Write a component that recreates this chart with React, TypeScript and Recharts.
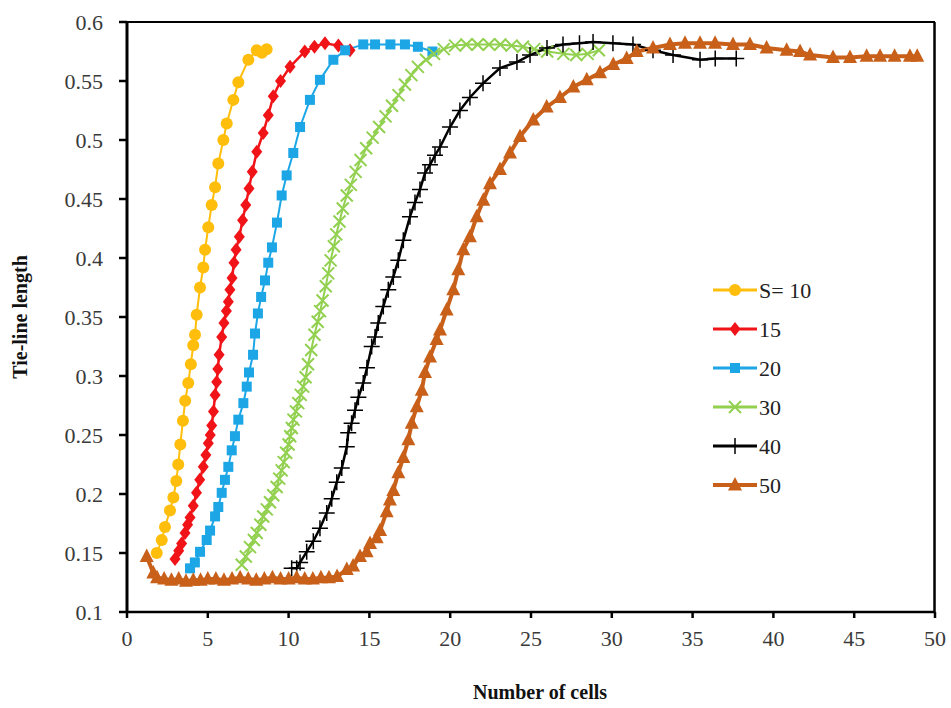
import { LineChart, Line, XAxis, YAxis, Label, ReferenceLine } from 'recharts';

const xTicks = [0, 5, 10, 15, 20, 25, 30, 35, 40, 45, 50];
const yTicks = [0.1, 0.15, 0.2, 0.25, 0.3, 0.35, 0.4, 0.45, 0.5, 0.55, 0.6];

// S = 10
const s10X = [1.84, 2.15, 2.35, 2.66, 2.87, 3.05, 3.17, 3.3, 3.46, 3.6, 3.79, 3.95, 4.1, 4.21, 4.31, 4.52, 4.72, 4.83, 5.03, 5.24, 5.45, 5.65, 5.96, 6.17, 6.58, 6.89, 7.51, 8.03, 8.35, 8.64];
const s10Y = [0.15, 0.161, 0.172, 0.186, 0.197, 0.211, 0.225, 0.242, 0.262, 0.279, 0.294, 0.31, 0.326, 0.335, 0.352, 0.375, 0.392, 0.407, 0.426, 0.445, 0.46, 0.48, 0.5, 0.514, 0.534, 0.549, 0.568, 0.576, 0.574, 0.577];

// 15
const s15X = [2.97, 3.2, 3.38, 3.59, 3.75, 3.9, 4.1, 4.3, 4.5, 4.72, 4.88, 5.03, 5.15, 5.24, 5.35, 5.45, 5.55, 5.62, 5.7, 5.86, 6.0, 6.15, 6.27, 6.37, 6.5, 6.62, 6.75, 6.95, 7.15, 7.35, 7.55, 7.75, 8.03, 8.43, 8.74, 9.05, 9.5, 10.09, 11.0, 11.6, 12.25, 13.08, 13.8];
const s15Y = [0.145, 0.152, 0.158, 0.167, 0.174, 0.18, 0.19, 0.201, 0.212, 0.223, 0.233, 0.243, 0.25, 0.258, 0.27, 0.284, 0.295, 0.306, 0.318, 0.333, 0.345, 0.355, 0.363, 0.373, 0.383, 0.396, 0.407, 0.418, 0.432, 0.445, 0.459, 0.473, 0.49, 0.506, 0.521, 0.537, 0.55, 0.562, 0.575, 0.579, 0.582, 0.58, 0.576];

// 20
const s20X = [3.9, 4.2, 4.52, 4.93, 5.14, 5.45, 5.65, 5.86, 6.06, 6.27, 6.48, 6.68, 6.89, 7.2, 7.41, 7.55, 7.8, 7.92, 8.1, 8.3, 8.54, 8.74, 8.97, 9.28, 9.57, 9.88, 10.29, 10.71, 11.32, 11.94, 12.77, 13.5, 14.62, 15.35, 16.3, 17.2, 18.0, 18.9];
const s20Y = [0.137, 0.142, 0.151, 0.161, 0.169, 0.181, 0.189, 0.201, 0.212, 0.223, 0.237, 0.249, 0.263, 0.277, 0.291, 0.303, 0.318, 0.336, 0.353, 0.367, 0.381, 0.396, 0.409, 0.43, 0.453, 0.47, 0.489, 0.511, 0.534, 0.551, 0.568, 0.576, 0.581, 0.581, 0.581, 0.581, 0.579, 0.575];

// 30
const s30X = [7.1, 7.35, 7.61, 7.85, 8.03, 8.25, 8.43, 8.65, 8.85, 9.05, 9.26, 9.42, 9.57, 9.7, 9.85, 10.0, 10.1, 10.2, 10.3, 10.45, 10.6, 10.75, 10.9, 11.05, 11.2, 11.4, 11.6, 11.8, 11.95, 12.1, 12.3, 12.45, 12.6, 12.8, 12.95, 13.15, 13.35, 13.6, 13.85, 14.15, 14.45, 14.8, 15.2, 15.6, 16.0, 16.4, 16.8, 17.2, 17.6, 18.0, 18.5, 19.0, 19.6, 20.3, 21.0, 21.7, 22.4, 23.1, 23.8, 24.5, 25.2, 26.0, 27.0, 27.8, 28.5, 29.2];
const s30Y = [0.14, 0.147, 0.155, 0.161, 0.167, 0.174, 0.181, 0.187, 0.193, 0.199, 0.206, 0.213, 0.22, 0.227, 0.235, 0.242, 0.249, 0.256, 0.263, 0.27, 0.277, 0.284, 0.291, 0.299, 0.31, 0.322, 0.335, 0.346, 0.355, 0.364, 0.376, 0.387, 0.398, 0.41, 0.42, 0.431, 0.442, 0.453, 0.462, 0.473, 0.483, 0.493, 0.502, 0.511, 0.52, 0.529, 0.538, 0.547, 0.555, 0.562, 0.568, 0.573, 0.577, 0.58, 0.581, 0.581, 0.581, 0.581, 0.58, 0.579, 0.577, 0.575, 0.573, 0.572, 0.573, 0.576];

// 40
const s40X = [10.19, 10.5, 10.71, 11.12, 11.53, 11.94, 12.36, 12.67, 12.98, 13.29, 13.6, 13.69, 13.9, 14.11, 14.32, 14.62, 14.85, 15.14, 15.35, 15.55, 15.86, 16.17, 16.48, 16.79, 17.1, 17.51, 17.82, 18.13, 18.44, 18.75, 19.06, 19.37, 19.99, 20.6, 21.22, 22.03, 23.08, 24.13, 24.94, 25.99, 26.98, 28.0, 28.84, 30.07, 31.31, 32.55, 33.79, 35.46, 36.4, 37.7];
const s40Y = [0.137, 0.137, 0.142, 0.151, 0.16, 0.171, 0.184, 0.196, 0.21, 0.222, 0.24, 0.252, 0.26, 0.271, 0.282, 0.294, 0.307, 0.325, 0.333, 0.345, 0.359, 0.373, 0.384, 0.398, 0.415, 0.435, 0.447, 0.458, 0.472, 0.479, 0.487, 0.494, 0.511, 0.525, 0.536, 0.548, 0.561, 0.566, 0.572, 0.578, 0.581, 0.582, 0.583, 0.582, 0.581, 0.576, 0.572, 0.568, 0.569, 0.569];

// 50
const s50X = [1.22, 1.63, 1.86, 2.3, 2.75, 3.2, 3.65, 4.1, 4.55, 5.0, 5.5, 6.0, 6.5, 7.0, 7.5, 8.0, 8.5, 9.0, 9.5, 10.0, 10.5, 11.0, 11.5, 12.0, 12.5, 13.0, 13.6, 13.99, 14.42, 14.83, 15.04, 15.45, 15.66, 16.07, 16.27, 16.48, 16.79, 17.1, 17.41, 17.62, 17.93, 18.24, 18.44, 18.75, 19.16, 19.37, 19.78, 20.19, 20.5, 20.81, 21.22, 21.64, 22.05, 22.46, 23.08, 23.7, 24.32, 25.14, 25.97, 26.79, 27.62, 28.45, 29.27, 30.09, 30.92, 31.54, 32.55, 33.6, 34.53, 35.46, 36.39, 37.5, 38.55, 39.58, 40.82, 41.65, 42.27, 43.69, 44.74, 45.77, 46.6, 47.5, 48.45, 48.9];
const s50Y = [0.147, 0.133, 0.129, 0.128, 0.127, 0.128, 0.126, 0.127, 0.127, 0.128, 0.128, 0.127, 0.128, 0.129, 0.128, 0.127, 0.128, 0.129, 0.128, 0.128, 0.129, 0.128, 0.128, 0.129, 0.129, 0.13, 0.136, 0.139, 0.147, 0.151, 0.158, 0.163, 0.169, 0.185, 0.195, 0.203, 0.218, 0.231, 0.246, 0.26, 0.274, 0.288, 0.303, 0.316, 0.331, 0.339, 0.356, 0.373, 0.39, 0.407, 0.418, 0.435, 0.449, 0.463, 0.475, 0.489, 0.503, 0.517, 0.528, 0.536, 0.545, 0.551, 0.557, 0.564, 0.569, 0.575, 0.578, 0.581, 0.582, 0.582, 0.582, 0.581, 0.581, 0.578, 0.576, 0.575, 0.572, 0.57, 0.57, 0.571, 0.571, 0.571, 0.571, 0.571];

const toPoints = (xs: number[], ys: number[]) => xs.map((x, i) => ({ x, y: ys[i] }));

type Shape = 'circle' | 'diamond' | 'square' | 'cross' | 'plus' | 'triangle';

const SERIES: { name: string; color: string; width: number; shape: Shape; points: { x: number; y: number }[] }[] = [
  { name: 'S= 10', color: '#FFBE0B', width: 2, shape: 'circle', points: toPoints(s10X, s10Y) },
  { name: '15', color: '#F01418', width: 2.5, shape: 'diamond', points: toPoints(s15X, s15Y) },
  { name: '20', color: '#1CA6E6', width: 2, shape: 'square', points: toPoints(s20X, s20Y) },
  { name: '30', color: '#92D050', width: 2, shape: 'cross', points: toPoints(s30X, s30Y) },
  { name: '40', color: '#000000', width: 2.5, shape: 'plus', points: toPoints(s40X, s40Y) },
  { name: '50', color: '#C8601A', width: 4, shape: 'triangle', points: toPoints(s50X, s50Y) },
];

const FONT = '"Liberation Serif", "Times New Roman", serif';

function Marker({ shape, cx, cy, color }: { shape: Shape; cx: number; cy: number; color: string }) {
  switch (shape) {
    case 'circle':
      return <circle cx={cx} cy={cy} r={6} fill={color} />;
    case 'diamond':
      return <polygon points={`${cx},${cy - 7} ${cx + 5.5},${cy} ${cx},${cy + 7} ${cx - 5.5},${cy}`} fill={color} />;
    case 'square':
      return <rect x={cx - 5} y={cy - 5} width={10} height={10} fill={color} />;
    case 'cross':
      return (
        <path d={`M${cx - 6},${cy - 6}L${cx + 6},${cy + 6}M${cx - 6},${cy + 6}L${cx + 6},${cy - 6}`} stroke={color} strokeWidth={2} />
      );
    case 'plus':
      return <path d={`M${cx - 8},${cy}L${cx + 8},${cy}M${cx},${cy - 8}L${cx},${cy + 8}`} stroke={color} strokeWidth={1.5} />;
    default:
      return <polygon points={`${cx},${cy - 8} ${cx + 7},${cy + 5.5} ${cx - 7},${cy + 5.5}`} fill={color} />;
  }
}

// legend drawn as an overlay so it doesn't eat plot space
const LegendBox = () => (
  <svg width={130} height={240} style={{ position: 'absolute', left: 713, top: 270 }}>
    {SERIES.map((s, i) => {
      const y = 20 + i * 39;
      return (
        <g key={s.name}>
          <line x1={0} x2={44} y1={y} y2={y} stroke={s.color} strokeWidth={s.shape === 'triangle' ? 4 : 3} />
          <Marker shape={s.shape} cx={22} cy={y} color={s.color} />
          <text x={46} y={y} dominantBaseline="central" fontSize={22} fontFamily={FONT} fill="#222">
            {s.name}
          </text>
        </g>
      );
    })}
  </svg>
);

const fmtY = (v: number) => String(Math.round(v * 100) / 100);

export default function App() {
  const tickStyle = { fill: '#3a3a3a', fontSize: 22, fontFamily: FONT };
  return (
    <div style={{ position: 'relative', width: 951, height: 708, overflow: 'hidden' }}>
      {/* drop the default body margin and any scrollbars so chart coords match the page */}
      <style>{'html,body{margin:0;padding:0;overflow:hidden}'}</style>
      <LineChart width={951} height={708} margin={{ top: 22, right: 16, bottom: 0, left: 0 }} style={{ fontFamily: FONT }}>
        <XAxis
          type="number"
          dataKey="x"
          domain={[0, 50]}
          ticks={xTicks}
          allowDataOverflow
          interval={0}
          height={96}
          tick={tickStyle}
          tickSize={6}
          tickMargin={12}
          axisLine={{ stroke: '#000', strokeWidth: 2.5 }}
          tickLine={{ stroke: '#000', strokeWidth: 2.5 }}
        >
          <Label value="Number of cells" position="insideBottom" offset={9} dx={9} fontSize={20} fontWeight="bold" fill="#111" fontFamily={FONT} />
        </XAxis>
        <YAxis
          type="number"
          domain={[0.1, 0.6]}
          ticks={yTicks}
          allowDataOverflow
          interval={0}
          width={127}
          tick={tickStyle}
          tickFormatter={fmtY}
          tickSize={8}
          tickMargin={16}
          axisLine={{ stroke: '#000', strokeWidth: 3 }}
          tickLine={{ stroke: '#000', strokeWidth: 2.5 }}
        >
          <Label value="Tie-line length" angle={-90} position="insideLeft" offset={20} fontSize={20} fontWeight="bold" fill="#111" fontFamily={FONT} style={{ textAnchor: 'middle' }} />
        </YAxis>
        {/* plot frame: top and right edges */}
        <ReferenceLine segment={[{ x: 0, y: 0.6 }, { x: 50, y: 0.6 }]} stroke="#000" strokeWidth={2.2} ifOverflow="visible" />
        <ReferenceLine segment={[{ x: 49.97, y: 0.1 }, { x: 49.97, y: 0.6 }]} stroke="#000" strokeWidth={2.5} ifOverflow="visible" />
        {SERIES.map((s) => (
          <Line
            key={s.name}
            data={s.points}
            dataKey="y"
            name={s.name}
            type="linear"
            stroke={s.color}
            strokeWidth={s.width}
            isAnimationActive={false}
            activeDot={false}
            dot={(p: any) => <Marker key={`${s.name}-${p.index}`} shape={s.shape} cx={p.cx} cy={p.cy} color={s.color} />}
          />
        ))}
      </LineChart>
      <LegendBox />
    </div>
  );
}
